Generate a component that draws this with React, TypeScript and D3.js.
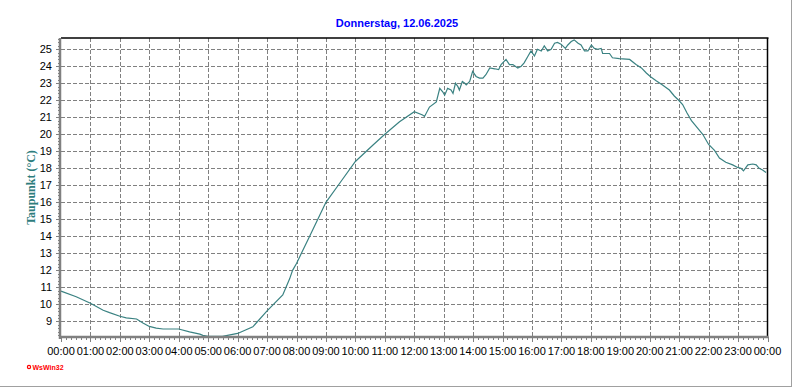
import { useEffect, useRef } from 'react'
import * as d3 from 'd3'

const W = 792
const H = 387

const title = 'Donnerstag, 12.06.2025'
const yLabel = 'Taupunkt (°C)'
const credit = 'WsWin32'

const xTickLabels = [
  '00:00', '01:00', '02:00', '03:00', '04:00', '05:00', '06:00', '07:00', '08:00',
  '09:00', '10:00', '11:00', '12:00', '13:00', '14:00', '15:00', '16:00', '17:00',
  '18:00', '19:00', '20:00', '21:00', '22:00', '23:00', '00:00',
]
const yTicks = [9, 10, 11, 12, 13, 14, 15, 16, 17, 18, 19, 20, 21, 22, 23, 24, 25]

// readings (time of day, dew point °C)
const times = [
  '00:00', '00:31', '01:00', '01:26', '01:39', '02:00', '02:13', '02:34', '02:47', '03:00',
  '03:14', '03:28', '04:00', '04:22', '04:43', '04:49', '05:00', '05:29', '06:00', '06:31',
  '07:00', '07:32', '07:46', '07:52', '08:00', '08:10', '08:30', '08:50', '09:00', '09:28',
  '10:00', '10:36', '11:00', '11:30', '12:00', '12:17', '12:21', '12:31', '12:45', '12:52',
  '12:58', '13:02', '13:08', '13:15', '13:19', '13:24', '13:29', '13:32', '13:38', '13:43',
  '13:46', '13:53', '13:59', '14:06', '14:13', '14:20', '14:26', '14:34', '14:44', '14:52',
  '14:57', '15:07', '15:14', '15:21', '15:31', '15:38', '15:44', '15:52', '15:58', '16:05',
  '16:11', '16:19', '16:25', '16:32', '16:39', '16:46', '16:52', '16:59', '17:08', '17:13',
  '17:20', '17:26', '17:34', '17:40', '17:47', '17:54', '18:01', '18:07', '18:14', '18:21',
  '18:24', '18:38', '18:44', '18:58', '19:19', '19:32', '19:43', '19:53', '20:01', '20:13',
  '20:26', '20:40', '20:50', '20:59', '21:07', '21:16', '21:25', '21:38', '21:48', '22:00',
  '22:12', '22:22', '22:35', '22:49', '22:59', '23:06', '23:11', '23:20', '23:30', '23:37',
  '23:43', '23:50', '23:57',
]
const dewPoint = [
  10.78, 10.45, 10.06, 9.65, 9.51, 9.3, 9.2, 9.14, 8.9, 8.7,
  8.6, 8.55, 8.55, 8.38, 8.25, 8.18, 8.12, 8.12, 8.29, 8.68,
  9.62, 10.55, 11.5, 12.0, 12.4, 13.0, 14.2, 15.4, 16.0, 17.12,
  18.4, 19.37, 20.0, 20.74, 21.33, 21.13, 21.05, 21.6, 21.9, 22.7,
  22.5, 22.3, 22.7, 22.6, 22.4, 23.0, 22.8, 22.6, 23.1, 23.0,
  22.9, 23.1, 23.7, 23.4, 23.3, 23.3, 23.5, 23.9, 23.85, 23.8,
  24.1, 24.4, 24.1, 24.1, 23.9, 24.0, 24.2, 24.6, 24.9, 24.6,
  25.0, 24.9, 25.2, 24.9, 25.0, 25.35, 25.4, 25.3, 25.05, 25.25,
  25.45, 25.55, 25.35, 25.25, 24.9, 24.9, 25.25, 25.05, 25.0, 25.05,
  24.75, 24.75, 24.5, 24.45, 24.4, 24.1, 23.9, 23.6, 23.4, 23.15,
  22.9, 22.6, 22.25, 22.0, 21.75, 21.25, 20.8, 20.35, 20.0, 19.4,
  19.05, 18.6, 18.35, 18.2, 18.05, 18.0, 17.85, 18.2, 18.25, 18.2,
  18.0, 17.9, 17.75,
]

const toHours = (s: string) => {
  const [h, m] = s.split(':').map(Number)
  return h + m / 60
}

function DewPointChart() {
  const svgRef = useRef<SVGSVGElement>(null)

  useEffect(() => {
    const svg = svgRef.current
    if (!svg) return
    const root = d3.select(svg)
    root.selectAll('*').remove()

    const left = 61, right = 767.5, top = 38, bottom = 337
    const x = d3.scaleLinear().domain([0, 24]).range([left, right])
    const y = d3.scaleLinear().domain([8.08, 25.66]).range([bottom, top])
    const font = 'Arial, "Liberation Sans", sans-serif'

    // outer frame (right + bottom edge)
    root.append('line').attr('x1', W - 0.5).attr('x2', W - 0.5).attr('y1', 0).attr('y2', H)
      .attr('stroke', '#a0a0a0')
    root.append('line').attr('x1', 0).attr('x2', W).attr('y1', H - 0.5).attr('y2', H - 0.5)
      .attr('stroke', '#a0a0a0')

    root.append('text')
      .attr('x', 397).attr('y', 27).attr('text-anchor', 'middle')
      .attr('font-family', font).attr('font-weight', 'bold').attr('font-size', 11)
      .attr('fill', '#0000ff').text(title)

    // grid
    const grid = root.append('g').attr('stroke', '#808080').attr('stroke-dasharray', '4,2')
      .attr('shape-rendering', 'crispEdges')
    xTickLabels.forEach((_, i) => {
      if (i === 0 || i === 24) return
      const xx = Math.round(x(i)) + 0.5
      grid.append('line').attr('x1', xx).attr('x2', xx).attr('y1', top).attr('y2', bottom)
    })
    yTicks.forEach(v => {
      const yy = Math.round(y(v)) + 0.5
      grid.append('line').attr('x1', left).attr('x2', right).attr('y1', yy).attr('y2', yy)
    })

    // data line
    const pts = times.map((t, i) => ({ t: toHours(t), v: dewPoint[i] }))
    const line = d3.line<{ t: number; v: number }>().x(d => x(d.t)).y(d => y(d.v))
    root.append('path').datum(pts).attr('fill', 'none')
      .attr('stroke', '#3a8282').attr('stroke-width', 1.2).attr('d', line)

    // frame: top + right black
    root.append('line').attr('x1', left).attr('x2', right + 1).attr('y1', top).attr('y2', top)
      .attr('stroke', '#000').attr('stroke-width', 1.5)
    root.append('line').attr('x1', right).attr('x2', right).attr('y1', top).attr('y2', bottom)
      .attr('stroke', '#000').attr('stroke-width', 1.5)

    // axes: thick grey left + bottom with minor ticks
    const ax = root.append('g').attr('stroke', '#808080').attr('shape-rendering', 'crispEdges')
    d3.range(0, 24 * 6 + 1).forEach(k => {
      const xx = Math.round(x(k / 6)) + 0.5
      ax.append('line').attr('x1', xx).attr('x2', xx).attr('y1', bottom)
        .attr('y2', bottom + (k % 6 === 0 ? 5 : 3))
    })
    d3.range(Math.ceil(y.domain()[0] * 5), Math.floor(y.domain()[1] * 5) + 1).forEach(k => {
      const yy = Math.round(y(k / 5)) + 0.5
      ax.append('line').attr('x1', left - (k % 5 === 0 ? 5 : 3)).attr('x2', left).attr('y1', yy).attr('y2', yy)
    })
    root.append('line').attr('x1', left - 1).attr('x2', left - 1).attr('y1', top).attr('y2', bottom + 2)
      .attr('stroke', '#808080').attr('stroke-width', 2.5)
    root.append('line').attr('x1', left - 2).attr('x2', right + 1).attr('y1', bottom).attr('y2', bottom)
      .attr('stroke', '#808080').attr('stroke-width', 2.5)

    // tick labels
    root.append('g').selectAll('text').data(yTicks).join('text')
      .attr('x', 52).attr('y', d => y(d) + 4).attr('text-anchor', 'end')
      .attr('font-family', font).attr('font-size', 11).attr('fill', '#000')
      .text(d => d)
    root.append('g').selectAll('text').data(xTickLabels).join('text')
      .attr('x', (_, i) => x(i)).attr('y', 355).attr('text-anchor', 'middle')
      .attr('font-family', font).attr('font-size', 11).attr('fill', '#000')
      .text(d => d)

    root.append('text')
      .attr('transform', `translate(35,${(top + bottom) / 2}) rotate(-90)`)
      .attr('text-anchor', 'middle')
      .attr('font-family', '"Times New Roman", "Liberation Serif", serif')
      .attr('font-weight', 'bold').attr('font-size', 12).attr('fill', '#2e7d7d')
      .text(yLabel)

    // credit
    root.append('circle').attr('cx', 29).attr('cy', 367).attr('r', 1.6)
      .attr('fill', 'none').attr('stroke', '#ff0000').attr('stroke-width', 1.2)
    root.append('text').attr('x', 32.5).attr('y', 369.5)
      .attr('font-family', font).attr('font-weight', 'bold').attr('font-size', 7)
      .attr('fill', '#ff0000').text(credit)
  }, [])

  return <svg ref={svgRef} width={W} height={H} style={{ position: 'absolute', left: 0, top: 0, background: '#fff' }} />
}

export default function App() {
  return <DewPointChart />
}
